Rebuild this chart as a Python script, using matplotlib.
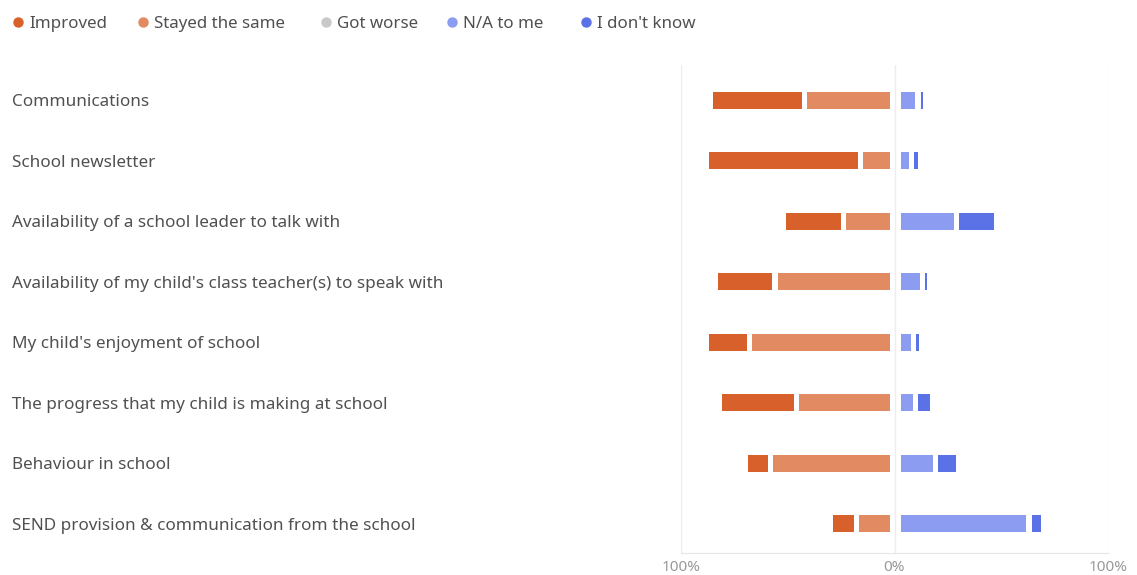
import numpy as np
import matplotlib
matplotlib.use("Agg")
import matplotlib.pyplot as plt
from matplotlib.transforms import blended_transform_factory, ScaledTranslation

plt.rcParams['font.family'] = ['Noto Sans', 'DejaVu Sans']

# data (% of respondents)
questions = [
    "Communications",
    "School newsletter",
    "Availability of a school leader to talk with",
    "Availability of my child's class teacher(s) to speak with",
    "My child's enjoyment of school",
    "The progress that my child is making at school",
    "Behaviour in school",
    "SEND provision & communication from the school",
]
improved = [44, 72, 28, 28, 20, 36, 12, 12]
stayed_same = [42, 16, 24, 56, 68, 46, 58, 18]
got_worse = [0, 0, 0, 0, 0, 0, 0, 0]
na_to_me = [11, 8, 29, 13, 9, 10, 19, 63]
dont_know = [3.5, 4, 19, 3.5, 3.5, 8, 11, 7]

series = ["Improved", "Stayed the same", "Got worse", "N/A to me", "I don't know"]
colors = ["#D8602A", "#E28B62", "#C9C9C9", "#8C9DF1", "#5A72E6"]

W, H = 1137, 575
fig = plt.figure(figsize=(W / 100, H / 100), dpi=100)
ax = fig.add_axes([681 / W, 1 - 553 / H, (1108 - 681) / W, (553 - 65) / H])

y = np.arange(len(questions))
bh = 0.28
pad = 1.2        # half gap between segments, in % units
pad_zero_l = 2.1  # gap left of the 0% line
pad_zero_r = 3.0  # gap right of the 0% line


def seg(a, b, color, pa, pb):
    # draw segment from a to b (a < b) leaving small gaps at both ends
    a = np.asarray(a, float) + pa
    b = np.asarray(b, float) - pb
    w = np.clip(b - a, 0, None)
    ax.barh(y, w, left=a, height=bh, color=color, linewidth=0)


imp = np.array(improved)
sts = np.array(stayed_same)
gw = np.array(got_worse)
na = np.array(na_to_me)
dk = np.array(dont_know)

# left side: stayed the same next to zero, improved further out
seg(-sts, 0, colors[1], pad, pad_zero_l)
seg(-sts - imp, -sts, colors[0], pad, pad)
seg(-sts - imp - gw, -sts - imp, colors[2], pad, pad)
# right side
seg(0, na, colors[3], pad_zero_r, pad)
seg(na, na + dk, colors[4], pad, pad)

ax.set_xlim(-100, 100)
ax.set_ylim(len(questions) - 1 + 0.48, -0.58)
ax.set_xticks([-100, 0, 100])
ax.set_xticklabels(["100%", "0%", "100%"], color="#999999", fontsize=11)
ax.tick_params(axis="x", length=0, pad=5)
ax.set_yticks([])
for x in [-100, 0, 100]:
    ax.axvline(x, color="#EDEDED", linewidth=1, zorder=0)
for s in ["top", "left", "right"]:
    ax.spines[s].set_visible(False)
ax.spines["bottom"].set_color("#E6E6E6")

# question labels, left aligned at the figure edge
down = ScaledTranslation(0, -2 / 100, fig.dpi_scale_trans)
tr = blended_transform_factory(fig.transFigure, ax.transData) + down
for i, q in enumerate(questions):
    ax.text(12 / W, i, q, transform=tr, ha="left", va="center",
            fontsize=12.3, color="#505050")

# legend across the top
leg_x = [18, 143, 326, 452, 586]
for lx, name, c in zip(leg_x, series, colors):
    fig.lines.append(plt.Line2D([lx / W], [1 - 22 / H], marker="o", markersize=6.5,
                                color=c, linestyle="none", transform=fig.transFigure))
    fig.text((lx + 11) / W, 1 - 22 / H, name, ha="left", va="center",
             fontsize=12.2, color="#505050", transform=fig.transFigure + down)

fig.savefig("out.png", dpi=100)
